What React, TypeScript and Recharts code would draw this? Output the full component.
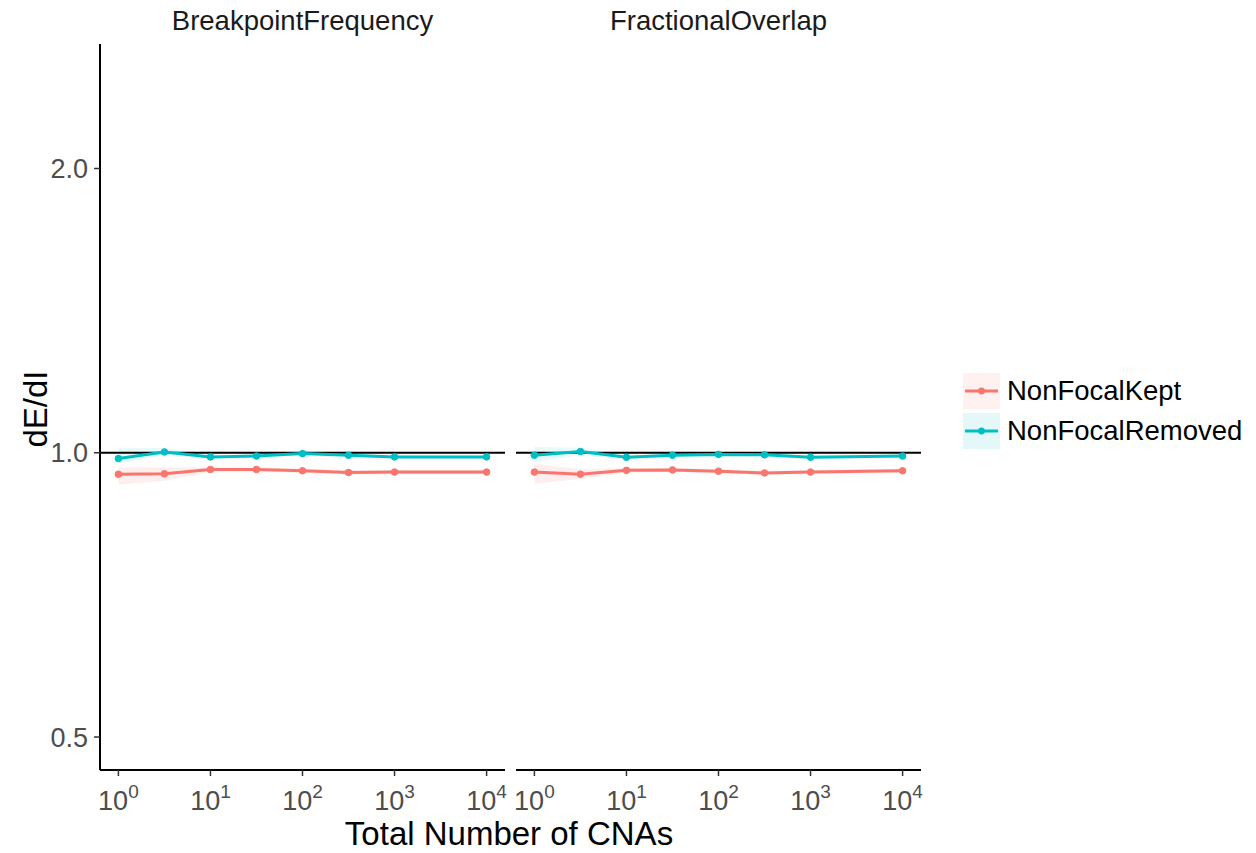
import {
  ComposedChart,
  Line,
  Area,
  XAxis,
  YAxis,
  ReferenceLine,
} from 'recharts'

// total CNA counts simulated (half-decade steps, 10^3.5 missing)
const cnaTotals = [1, 3.162, 10, 31.62, 100, 316.2, 1000, 10000]
const xTicks = [1, 10, 100, 1000, 10000]
const yTicks = [0.5, 1, 2]

const facetNames = ['BreakpointFrequency', 'FractionalOverlap']
const seriesNames = ['NonFocalKept', 'NonFocalRemoved']

// BreakpointFrequency
const bfKept = [0.949, 0.95, 0.96, 0.96, 0.957, 0.953, 0.954, 0.954]
const bfKeptLow = [0.925, 0.934, 0.955, 0.955, 0.952, 0.948, 0.949, 0.949]
const bfKeptHigh = [0.965, 0.965, 0.965, 0.965, 0.962, 0.958, 0.959, 0.959]
const bfRemoved = [0.986, 1.002, 0.99, 0.992, 0.998, 0.994, 0.99, 0.99]
const bfRemovedLow = [0.974, 0.995, 0.986, 0.988, 0.994, 0.99, 0.986, 0.986]
const bfRemovedHigh = [1.011, 1.012, 0.994, 0.996, 1.002, 0.998, 0.994, 0.994]

// FractionalOverlap
const foKept = [0.954, 0.949, 0.958, 0.959, 0.956, 0.952, 0.954, 0.957]
const foKeptLow = [0.927, 0.938, 0.953, 0.954, 0.951, 0.947, 0.949, 0.952]
const foKeptHigh = [0.973, 0.961, 0.963, 0.964, 0.961, 0.957, 0.959, 0.962]
const foRemoved = [0.994, 1.003, 0.989, 0.994, 0.996, 0.995, 0.989, 0.992]
const foRemovedLow = [0.977, 0.994, 0.985, 0.99, 0.992, 0.991, 0.985, 0.988]
const foRemovedHigh = [1.014, 1.012, 0.993, 0.998, 1.0, 0.999, 0.993, 0.996]

const RED = '#F8766D'
const TEAL = '#00BFC4'
const FONT = '"Liberation Sans", Arial, Helvetica, sans-serif'
const X_DOMAIN = [Math.pow(10, -0.2), Math.pow(10, 4.2)]
const Y_DOMAIN = [Math.pow(2, -1.116), Math.pow(2, 1.438)]

function buildRows(
  kept: number[], keptLow: number[], keptHigh: number[],
  removed: number[], removedLow: number[], removedHigh: number[],
) {
  return cnaTotals.map((n, i) => ({
    n,
    kept: kept[i],
    keptBand: [keptLow[i], keptHigh[i]],
    removed: removed[i],
    removedBand: [removedLow[i], removedHigh[i]],
  }))
}

const panels = [
  buildRows(bfKept, bfKeptLow, bfKeptHigh, bfRemoved, bfRemovedLow, bfRemovedHigh),
  buildRows(foKept, foKeptLow, foKeptHigh, foRemoved, foRemovedLow, foRemovedHigh),
]

function PowerTick({ x, y, payload }: any) {
  const exp = Math.round(Math.log10(payload.value))
  return (
    <text x={x} y={y + 26} textAnchor="middle" fill="#4D4D4D" fontFamily={FONT} fontSize={27}>
      <tspan>10</tspan>
      <tspan dy={-12} fontSize={19}>{exp}</tspan>
    </text>
  )
}

function Facet({ rows, showY, width, leftPad }: { rows: any[]; showY: boolean; width: number; leftPad: number }) {
  return (
    <ComposedChart
      width={width}
      height={853}
      data={rows}
      margin={{ top: 44, right: 5, bottom: 0, left: leftPad }}
    >
      <XAxis
        dataKey="n"
        type="number"
        scale="log"
        domain={X_DOMAIN}
        ticks={xTicks}
        allowDataOverflow
        height={83}
        tickSize={6}
        tickMargin={8}
        axisLine={{ stroke: '#000', strokeWidth: 2 }}
        tickLine={{ stroke: '#333', strokeWidth: 1.5 }}
        tick={<PowerTick />}
        interval={0}
      />
      <YAxis
        type="number"
        scale="log"
        domain={Y_DOMAIN}
        ticks={yTicks}
        allowDataOverflow
        hide={!showY}
        width={100}
        tickSize={6}
        tickMargin={6}
        tickFormatter={(v: number) => v.toFixed(1)}
        axisLine={{ stroke: '#000', strokeWidth: 2 }}
        tickLine={{ stroke: '#333', strokeWidth: 1.5 }}
        tick={{ fill: '#4D4D4D', fontSize: 27, fontFamily: FONT }}
        interval={0}
      />
      <Area dataKey="keptBand" type="linear" stroke="none" fill={RED} fillOpacity={0.12} isAnimationActive={false} />
      <Area dataKey="removedBand" type="linear" stroke="none" fill={TEAL} fillOpacity={0.09} isAnimationActive={false} />
      <ReferenceLine y={1} stroke="#000" strokeWidth={2} />
      <Line
        dataKey="kept"
        type="linear"
        stroke={RED}
        strokeWidth={3}
        dot={{ r: 3.3, fill: RED, stroke: RED, strokeWidth: 1 }}
        isAnimationActive={false}
      />
      <Line
        dataKey="removed"
        type="linear"
        stroke={TEAL}
        strokeWidth={3}
        dot={{ r: 3.3, fill: TEAL, stroke: TEAL, strokeWidth: 1 }}
        isAnimationActive={false}
      />
    </ComposedChart>
  )
}

function LegendKey({ y, color, label }: { y: number; color: string; label: string }) {
  return (
    <g>
      <rect x={963} y={y} width={37} height={36} fill={color} fillOpacity={0.1} />
      <line x1={965} x2={998} y1={y + 18} y2={y + 18} stroke={color} strokeWidth={3} />
      <circle cx={981.5} cy={y + 18} r={3.4} fill={color} />
      <text x={1007} y={y + 27} fontFamily={FONT} fontSize={27.5} fill="#000">{label}</text>
    </g>
  )
}

export default function App() {
  return (
    <div style={{ position: 'absolute', left: 0, top: 0, width: 1256, height: 853, background: '#fff' }}>
      <div style={{ position: 'absolute', left: 0, top: 0 }}>
        <Facet rows={panels[0]} showY width={510} leftPad={0} />
      </div>
      <div style={{ position: 'absolute', left: 506, top: 0 }}>
        <Facet rows={panels[1]} showY={false} width={420} leftPad={10} />
      </div>
      <svg
        width={1256}
        height={853}
        style={{ position: 'absolute', left: 0, top: 0, pointerEvents: 'none' }}
      >
        <text x={302.5} y={30} textAnchor="middle" fontFamily={FONT} fontSize={27.5} fill="#1A1A1A">
          {facetNames[0]}
        </text>
        <text x={718.5} y={30} textAnchor="middle" fontFamily={FONT} fontSize={27.5} fill="#1A1A1A">
          {facetNames[1]}
        </text>
        <text x={509} y={845} textAnchor="middle" fontFamily={FONT} fontSize={33} fill="#000">
          Total Number of CNAs
        </text>
        <text
          x={47}
          y={409}
          textAnchor="middle"
          fontFamily={FONT}
          fontSize={33}
          fill="#000"
          transform="rotate(-90 47 409)"
        >
          dE/dI
        </text>
        <LegendKey y={373} color={RED} label={seriesNames[0]} />
        <LegendKey y={413} color={TEAL} label={seriesNames[1]} />
      </svg>
    </div>
  )
}
